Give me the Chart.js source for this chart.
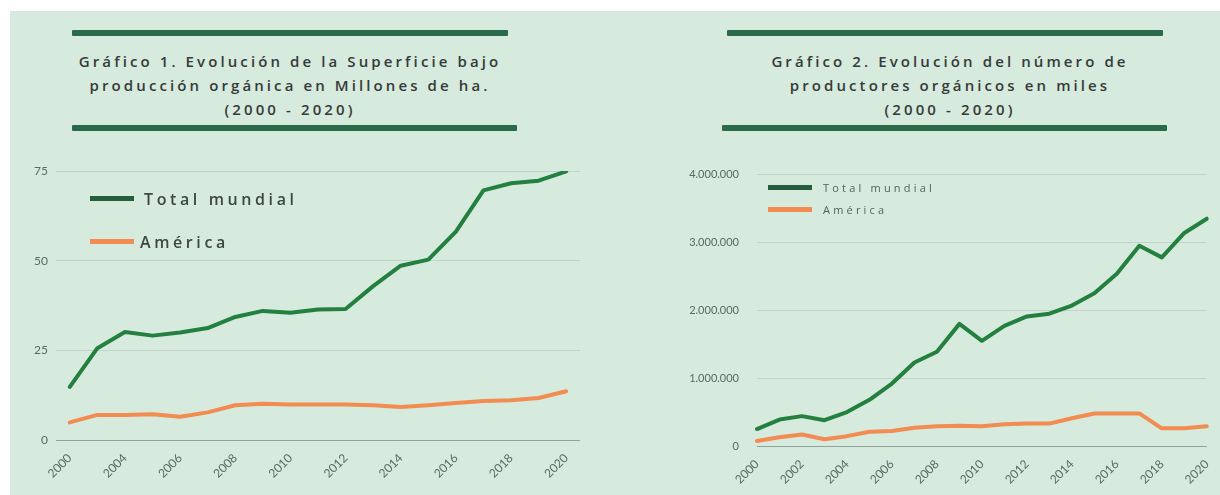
<!DOCTYPE html>
<html>
<head>
<meta charset="utf-8">
<script src="https://cdn.jsdelivr.net/npm/chart.js@4"></script>
<style>
  body { margin: 0; width: 1220px; height: 495px; background: #fff; position: relative; overflow: hidden; font-family: "Open Sans", sans-serif; }
  #bg { position: absolute; left: 10px; top: 11px; right: 0; bottom: 0; background: #d7eade; }
  .bar { position: absolute; height: 6px; background: #2a6a49; border-radius: 1px; }
  .title { position: absolute; text-align: center; color: #353b38; font-size: 15px; font-weight: 600; line-height: 24px; letter-spacing: 3.1px; }
  .leg { position: absolute; white-space: nowrap; }
  .leg span { display: inline-block; vertical-align: middle; }
  canvas { position: absolute; }
</style>
</head>
<body>
<div id="bg"></div>

<div class="bar" style="left:72px; top:30px; width:436px"></div>
<div class="title" style="left:40px; top:49px; width:500px">Gráfico 1. Evolución de la Superficie bajo<br>producción orgánica en Millones de ha.<br>(2000 - 2020)</div>
<div class="bar" style="left:72px; top:125px; width:445px"></div>

<div class="bar" style="left:727px; top:30px; width:436px"></div>
<div class="title" style="left:700px; top:49px; width:500px">Gráfico 2. Evolución del número de<br>productores orgánicos en miles<br>(2000 - 2020)</div>
<div class="bar" style="left:722px; top:125px; width:445px"></div>

<canvas id="chart1" width="600" height="345" style="left:0; top:150px; width:600px; height:345px"></canvas>
<canvas id="chart2" width="610" height="345" style="left:610px; top:150px; width:610px; height:345px"></canvas>

<div class="leg" style="left:90px; top:186px; font-size:16px; font-weight:600; letter-spacing:3.6px; color:#3d4843">
  <span style="width:44px; height:5px; background:#245e3d; margin-right:10px"></span><span>Total mundial</span>
</div>
<div class="leg" style="left:90px; top:229px; font-size:16px; font-weight:600; letter-spacing:3.6px; color:#3d4843">
  <span style="width:44px; height:5px; background:#f28c50; margin-right:6px"></span><span>América</span>
</div>

<div class="leg" style="left:768px; top:178px; font-size:11px; letter-spacing:3.2px; color:#56625c">
  <span style="width:44px; height:5px; background:#245e3d; margin-right:11px"></span><span>Total mundial</span>
</div>
<div class="leg" style="left:768px; top:200px; font-size:11px; letter-spacing:3.2px; color:#56625c">
  <span style="width:44px; height:5px; background:#f28c50; margin-right:11px"></span><span>América</span>
</div>

<script>
// Gráfico 1: superficie (millones de ha)
const years1 = ["2000", "2002", "2004", "2005", "2006", "2007", "2008", "2009", "2010", "2011",
  "2012", "2013", "2014", "2015", "2016", "2017", "2018", "2019", "2020"];
const surfaceWorld = [14.8, 25.6, 30.1, 29.1, 30.0, 31.2, 34.3, 36.0, 35.5, 36.4,
  36.5, 42.9, 48.6, 50.3, 58.1, 69.6, 71.6, 72.3, 74.9];
const surfaceAmerica = [4.9, 7.0, 7.0, 7.2, 6.5, 7.7, 9.7, 10.1, 9.9, 9.9,
  9.9, 9.7, 9.2, 9.7, 10.3, 10.9, 11.1, 11.7, 13.6];
const ticks1 = [0, 25, 50, 75];

// Gráfico 2: productores
const years2 = ["2000", "2001", "2002", "2003", "2004", "2005", "2006", "2007", "2008", "2009", "2010",
  "2011", "2012", "2013", "2014", "2015", "2016", "2017", "2018", "2019", "2020"];
const producersWorld = [250000, 390000, 440000, 380000, 500000, 680000, 920000, 1230000, 1390000, 1800000, 1550000,
  1770000, 1910000, 1950000, 2070000, 2250000, 2540000, 2950000, 2780000, 3140000, 3350000];
const producersAmerica = [75000, 130000, 170000, 100000, 145000, 210000, 220000, 270000, 290000, 300000, 290000,
  320000, 330000, 330000, 410000, 480000, 480000, 480000, 260000, 260000, 290000];
const ticks2 = [0, 1000000, 2000000, 3000000, 4000000];

const GREEN = "#23803f";
const ORANGE = "#f28c50";
const tickColor = "#5b6a63";

function fmtDots(v) {
  return String(v).replace(/\B(?=(\d{3})+(?!\d))/g, ".");
}

function lineDs(label, data, color) {
  return {
    label, data,
    borderColor: color,
    borderWidth: 4,
    pointRadius: 0,
    tension: 0,
    borderJoinStyle: "round",
    borderCapStyle: "round"
  };
}

function makeChart(id, labels, world, america, yTicks, cfg) {
  return new Chart(document.getElementById(id), {
    type: "line",
    data: {
      labels,
      datasets: [lineDs("Total mundial", world, GREEN), lineDs("América", america, ORANGE)]
    },
    options: {
      responsive: false,
      animation: false,
      layout: { padding: cfg.padding },
      plugins: { legend: { display: false }, tooltip: { enabled: false } },
      scales: {
        x: {
          offset: cfg.offset,
          grid: { display: false },
          border: { display: false },
          afterFit: s => { s.height = cfg.xHeight; },
          ticks: {
            autoSkip: false,
            minRotation: 45,
            maxRotation: 45,
            padding: 3,
            color: tickColor,
            font: { family: "Lato", size: 12 },
            callback: (v, i) => (i % 2 === 0 ? labels[i] : "")
          }
        },
        y: {
          min: yTicks[0],
          max: yTicks[yTicks.length - 1],
          afterFit: s => { s.width = cfg.yWidth; },
          afterBuildTicks: s => { s.ticks = yTicks.map(v => ({ value: v })); },
          border: { display: false },
          grid: {
            drawTicks: false,
            lineWidth: 1,
            color: c => (c.tick && c.tick.value === 0 ? "#8fa39a" : "rgba(190,205,197,0.8)")
          },
          ticks: {
            padding: cfg.yPad,
            color: tickColor,
            font: { family: "Lato", size: cfg.yFont },
            callback: v => fmtDots(v)
          }
        }
      }
    }
  });
}

makeChart("chart1", years1, surfaceWorld, surfaceAmerica, ticks1, {
  padding: { top: 21, right: 20, bottom: 0, left: 0 },
  offset: true, xHeight: 55, yWidth: 56, yPad: 8, yFont: 12
});

makeChart("chart2", years2, producersWorld, producersAmerica, ticks2, {
  padding: { top: 23, right: 12, bottom: 0, left: 0 },
  offset: false, xHeight: 49, yWidth: 147, yPad: 18, yFont: 11
});
</script>
</body>
</html>
